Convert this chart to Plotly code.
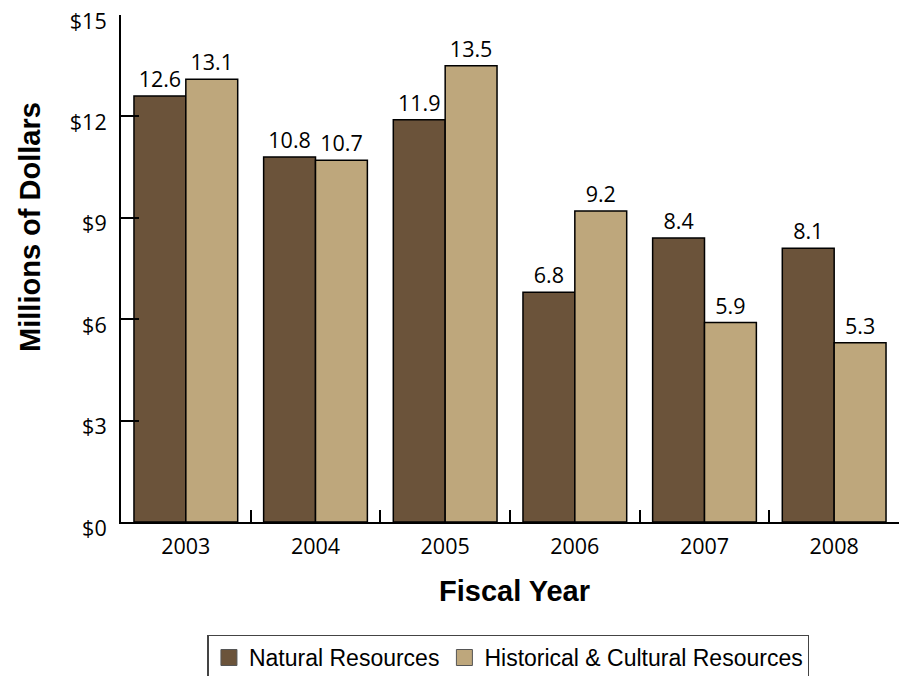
import plotly.graph_objects as go

years = ["2003", "2004", "2005", "2006", "2007", "2008"]
natural = [12.6, 10.8, 11.9, 6.8, 8.4, 8.1]
historical = [13.1, 10.7, 13.5, 9.2, 5.9, 5.3]
y_ticks = [0, 3, 6, 9, 12, 15]
y_tick_labels = ["$0", "$3", "$6", "$9", "$12", "$15"]

series = [
    ("Natural Resources", natural, "#6b533a"),
    ("Historical & Cultural Resources", historical, "#bea77c"),
]

label_font = dict(family="Open Sans", size=21.5, color="black")
tick_font = dict(family="Open Sans", size=21.5, color="black")
title_font = dict(family="Arial", size=29, color="black", weight="bold")

fig = go.Figure()
for name, values, color in series:
    fig.add_trace(go.Bar(
        x=years, y=values, name=name, showlegend=False,
        marker=dict(color=color, line=dict(color="black", width=1.5)),
        text=[f"{v:.1f}" for v in values], textposition="outside",
        textfont=label_font, constraintext="none", cliponaxis=False,
    ))

# legend keys drawn as larger squares than the default bar swatch
for name, values, color in series:
    fig.add_trace(go.Scatter(
        x=[None], y=[None], name=name, mode="markers",
        marker=dict(symbol="square", size=16, color=color,
                    line=dict(color="#555555", width=1)),
    ))

fig.update_layout(
    width=907, height=676,
    margin=dict(l=121, r=8, t=15, b=154, autoexpand=False),
    paper_bgcolor="white", plot_bgcolor="white",
    barmode="group", bargap=0.2, bargroupgap=0,
    showlegend=True,
    legend=dict(
        orientation="h", x=0.498, xanchor="center", y=-0.222, yanchor="top",
        font=dict(family="Arial", size=23, color="black"),
        bordercolor="#444444", borderwidth=1.5, bgcolor="white",
        itemwidth=30, traceorder="normal", itemsizing="trace",
    ),
    xaxis=dict(
        type="category", tickson="boundaries", ticks="inside", ticklen=12,
        tickwidth=1.5, tickcolor="black",
        showline=True, linecolor="black", linewidth=2,
        tickfont=tick_font, ticklabelstandoff=4, automargin=False,
        showgrid=False,
    ),
    yaxis=dict(
        range=[0, 15], tickvals=y_ticks, ticktext=y_tick_labels,
        ticks="inside", ticklen=18, tickwidth=1.5, tickcolor="black",
        showline=True, linecolor="black", linewidth=2,
        tickfont=tick_font, ticklabelstandoff=8, ticklabelshift=6,
        automargin=False,
        showgrid=False, zeroline=False,
    ),
    annotations=[
        dict(text="Fiscal Year", font=title_font, showarrow=False,
             xref="paper", yref="paper", x=0.506, y=-0.136,
             xanchor="center", yanchor="middle"),
        dict(text="Millions of Dollars", font=title_font, showarrow=False,
             textangle=-90, xref="paper", yref="paper", x=-0.117, y=0.582,
             xanchor="center", yanchor="middle"),
    ],
)

fig.write_html("out.html")
